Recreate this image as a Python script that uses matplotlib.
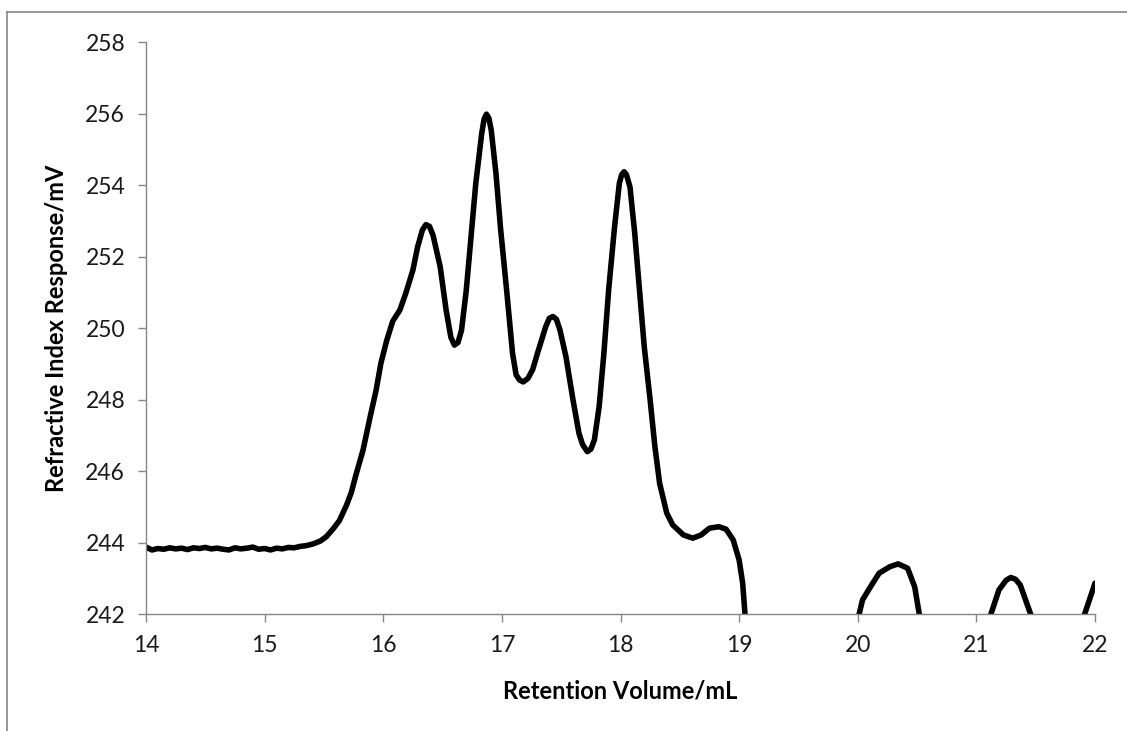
import matplotlib.pyplot as plt
from matplotlib.lines import Line2D

# retention volume (mL) and RI response (mV)
volume = [
    14.00, 14.05, 14.10, 14.15, 14.20, 14.25, 14.30, 14.35, 14.40, 14.45,
    14.50, 14.55, 14.60, 14.65, 14.70, 14.75, 14.80, 14.85, 14.90, 14.95,
    15.00, 15.05, 15.10, 15.15, 15.20, 15.25, 15.30, 15.35, 15.41, 15.47,
    15.52, 15.58, 15.63, 15.69, 15.73, 15.77, 15.83, 15.89, 15.94, 15.98,
    16.03, 16.08, 16.14, 16.19, 16.25, 16.29, 16.33, 16.36, 16.39, 16.42,
    16.48, 16.53, 16.57, 16.60, 16.63, 16.66, 16.70, 16.74, 16.78, 16.83,
    16.85, 16.87, 16.89, 16.91, 16.95, 16.99, 17.04, 17.09, 17.12, 17.15,
    17.18, 17.22, 17.26, 17.30, 17.37, 17.40, 17.43, 17.46, 17.49, 17.54,
    17.60, 17.65, 17.68, 17.72, 17.75, 17.78, 17.82, 17.86, 17.90, 17.95,
    17.99, 18.01, 18.03, 18.05, 18.08, 18.12, 18.16, 18.20, 18.25, 18.29,
    18.33, 18.39, 18.44, 18.53, 18.61, 18.68, 18.75, 18.83, 18.89, 18.95,
    19.00, 19.03, 19.05, 19.10, 19.50, 19.95, 20.01, 20.04, 20.10, 20.18,
    20.27, 20.34, 20.42, 20.48, 20.52, 20.56, 21.00, 21.08, 21.12, 21.19,
    21.25, 21.29, 21.33, 21.37, 21.46, 21.50, 21.85, 21.91, 22.00,
]
response = [
    243.88, 243.80, 243.84, 243.82, 243.86, 243.83, 243.85, 243.81, 243.86, 243.84,
    243.87, 243.83, 243.85, 243.82, 243.80, 243.86, 243.83, 243.85, 243.88, 243.82,
    243.84, 243.80, 243.85, 243.83, 243.87, 243.86, 243.90, 243.92, 243.97, 244.05,
    244.17, 244.40, 244.62, 245.05, 245.40, 245.90, 246.60, 247.53, 248.27, 249.02,
    249.67, 250.20, 250.51, 250.98, 251.63, 252.28, 252.75, 252.90, 252.85, 252.60,
    251.72, 250.51, 249.75, 249.53, 249.60, 249.95, 251.07, 252.56, 254.05, 255.45,
    255.85, 255.99, 255.88, 255.55, 254.34, 252.75, 251.07, 249.30, 248.70, 248.55,
    248.50, 248.60, 248.85, 249.30, 250.05, 250.28, 250.33, 250.25, 249.95, 249.21,
    247.99, 247.06, 246.75, 246.55, 246.62, 246.88, 247.81, 249.30, 251.07, 252.84,
    254.05, 254.30, 254.38, 254.30, 253.95, 252.66, 251.07, 249.49, 247.99, 246.69,
    245.66, 244.83, 244.50, 244.22, 244.13, 244.22, 244.41, 244.45, 244.38, 244.08,
    243.52, 242.87, 241.98, 240.50, 238.00, 240.50, 241.98, 242.40, 242.73, 243.15,
    243.33, 243.41, 243.29, 242.77, 241.98, 240.80, 238.00, 241.00, 241.98, 242.68,
    242.95, 243.03, 242.98, 242.82, 241.98, 241.00, 240.00, 241.98, 242.87,
]

x_ticks = [14, 15, 16, 17, 18, 19, 20, 21, 22]
y_ticks = [242, 244, 246, 248, 250, 252, 254, 256, 258]

plt.rcParams['font.family'] = ['Lato', 'DejaVu Sans']
axis_grey = '#868686'

fig = plt.figure(figsize=(11.27, 7.31), dpi=100)
ax = fig.add_axes([146 / 1127, 1 - 614.3 / 731, (1095 - 146) / 1127, (614.3 - 42.3) / 731])

ax.plot(volume, response, color='black', linewidth=4.0,
        solid_joinstyle='round', solid_capstyle='round')

ax.set_xlim(14, 22)
ax.set_ylim(242, 258)
ax.set_xticks(x_ticks)
ax.set_yticks(y_ticks)

for side in ['top', 'right']:
    ax.spines[side].set_visible(False)
for side in ['left', 'bottom']:
    ax.spines[side].set_color(axis_grey)
    ax.spines[side].set_linewidth(1.0)

ax.tick_params(axis='both', direction='out', length=6, width=1.0, color=axis_grey,
               labelsize=16.5, labelcolor='#1a1a1a')
ax.tick_params(axis='y', pad=9)
ax.tick_params(axis='x', pad=9)

ax.set_xlabel('Retention Volume/mL', fontsize=17, fontweight='bold', va='center')
ax.set_ylabel('Refractive Index Response/mV', fontsize=17, fontweight='bold', va='center')
ax.xaxis.set_label_coords(0.5, (614.3 - 691) / 572)
ax.yaxis.set_label_coords((57 - 146) / 949, 0.5)

# outer chart-area border (cropped at right and bottom)
x0 = 7 / 1127
y0 = 1 - 12.3 / 731
fig.add_artist(Line2D([x0, x0], [y0, -0.1], color=axis_grey, linewidth=1.2))
fig.add_artist(Line2D([x0, 1.1], [y0, y0], color=axis_grey, linewidth=1.2))

fig.savefig('out.png', dpi=100)
